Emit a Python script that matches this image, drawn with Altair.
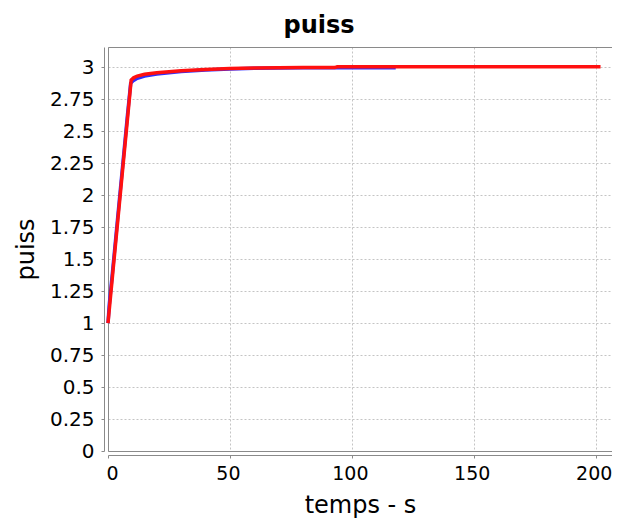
import altair as alt
import pandas as pd

# --- data ---
t_red = [0, 2, 4, 6, 8, 9.5, 10.5, 12, 15, 20, 25, 30, 40, 50, 60, 70, 80, 93, 94, 120, 150, 202]
v_red = [1.0, 1.40, 1.80, 2.20, 2.60, 2.90, 2.918, 2.932, 2.946, 2.958, 2.966, 2.973, 2.983, 2.99,
         2.995, 2.997, 2.998, 2.998, 3.004, 3.004, 3.004, 3.004]

t_blue = [0, 0.5, 2, 4, 6, 8, 9.3, 10.5, 12, 15, 20, 25, 30, 40, 50, 60, 70, 80, 95, 100, 118]
v_blue = [1.0, 1.14, 1.43, 1.83, 2.23, 2.63, 2.875, 2.898, 2.915, 2.932, 2.948, 2.958, 2.967, 2.979,
          2.987, 2.992, 2.995, 2.996, 2.997, 2.997, 2.997]

x_ticks = [0, 50, 100, 150, 200]
y_ticks = [0, 0.25, 0.5, 0.75, 1, 1.25, 1.5, 1.75, 2, 2.25, 2.5, 2.75, 3]

df_red = pd.DataFrame({"t": t_red, "v": v_red})
df_blue = pd.DataFrame({"t": t_blue, "v": v_blue})

FONT = "DejaVu Sans"
xs = alt.Scale(domain=[0, 206.7], nice=False, zero=False)
ys = alt.Scale(domain=[0, 3.159], nice=False, zero=False)

# grid + plot frame (left / bottom)
blue = alt.Chart(df_blue).mark_line(color="#2f2fff", strokeWidth=3.5).encode(
    x=alt.X("t:Q", scale=xs, axis=alt.Axis(
        orient="bottom", offset=0, values=x_ticks, grid=True, gridDash=[2, 2],
        gridColor="#c4c4c4", gridWidth=1, domain=True, domainColor="#8a8a8a",
        ticks=False, labels=False, title=None)),
    y=alt.Y("v:Q", scale=ys, axis=alt.Axis(
        orient="left", offset=0, values=y_ticks, grid=True, gridDash=[2, 2],
        gridColor="#c4c4c4", gridWidth=1, domain=True, domainColor="#8a8a8a",
        ticks=False, labels=False, title=None)),
    order="t:Q",
)

# visible axes (detached)
red = alt.Chart(df_red).mark_line(color="#ff1010", strokeWidth=3.5).encode(
    x=alt.X("t:Q", scale=xs, axis=alt.Axis(
        orient="bottom", offset=4, values=x_ticks, labelExpr="datum.value + ''",
        grid=False, domain=True,
        domainColor="#8a8a8a", ticks=True, tickSize=3, tickColor="#8a8a8a",
        labelFont=FONT, labelFontSize=19, labelColor="#000", labelPadding=6,
        labelOffset=-2,
        title="temps - s", titleFont=FONT, titleFontSize=24, titleFontWeight="normal",
        titleColor="#000", titlePadding=10)),
    y=alt.Y("v:Q", scale=ys, axis=alt.Axis(
        orient="left", offset=4, values=y_ticks, labelExpr="datum.value + ''",
        grid=False, domain=True,
        domainColor="#8a8a8a", ticks=True, tickSize=3, tickColor="#8a8a8a",
        labelFont=FONT, labelFontSize=20, labelColor="#000", labelPadding=7,
        title="puiss", titleFont=FONT, titleFontSize=24, titleFontWeight="normal",
        titleColor="#000", titlePadding=11)),
    order="t:Q",
)

# top frame line
top = alt.Chart(df_red).mark_line(opacity=0).encode(
    x=alt.X("t:Q", scale=xs, axis=alt.Axis(
        orient="top", offset=0, grid=False, domain=True, domainColor="#8a8a8a",
        ticks=False, labels=False, title=None)),
    y=alt.Y("v:Q", scale=ys, axis=None),
)

chart = alt.layer(blue, red, top).resolve_axis(
    x="independent", y="independent"
).properties(
    width=504,
    height=404,
    title=alt.TitleParams("puiss", font=FONT, fontSize=24, fontWeight="bold",
                          color="#000", anchor="middle", dx=-41, offset=9),
    autosize=alt.AutoSizeParams(type="none"),
    padding={"left": 100, "top": 39, "right": 0, "bottom": 70},
).configure_view(stroke=None).configure(background="white")

chart.save("out.html", embed_options={"renderer": "svg", "actions": False})
